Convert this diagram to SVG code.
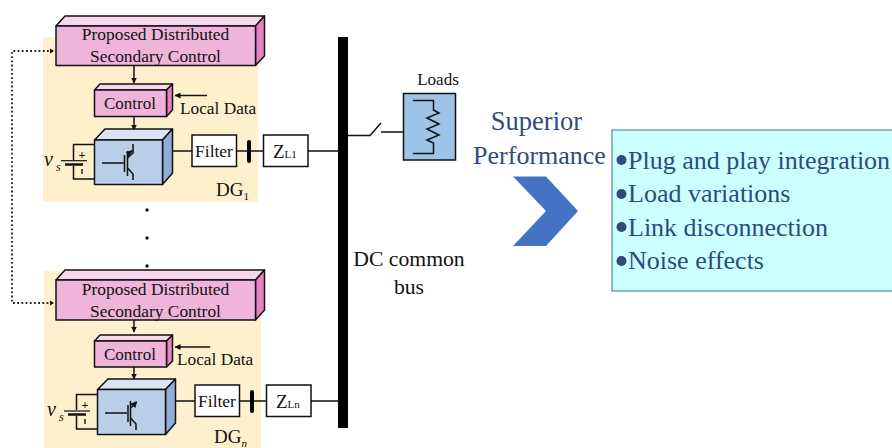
<svg xmlns="http://www.w3.org/2000/svg" width="892" height="448" viewBox="0 0 892 448">
<defs>
<style>
text{font-family:"Liberation Serif",serif;fill:#111}
.w{fill:none;stroke:#111;stroke-width:1.5}
.t{fill:none;stroke:#111;stroke-width:1.2}
.d{fill:none;stroke:#222;stroke-width:1.8;stroke-dasharray:1.8 2.4}
.bx{stroke:#111;stroke-width:1.5;stroke-linejoin:round}
.f1{fill:#efb4d9}.f2{fill:#f8d6ec}.f3{fill:#e583c2}
.b1{fill:#b9cfe8}.b2{fill:#dae5f3}.b3{fill:#90add6}
.white{fill:#fff;stroke:#111;stroke-width:1.5}
.blue{fill:#2f4a7d}
.p{font-size:17.400px;text-anchor:middle}
.c{font-size:17px;text-anchor:middle}
.l{font-size:17.300px}
.fl{font-size:17.500px;text-anchor:middle}
.n{fill:#2f4a7d}
</style>
<marker id="a" viewBox="0 0 6 6" refX="5.5" refY="3" markerWidth="6" markerHeight="6" orient="auto" markerUnits="userSpaceOnUse"><path d="M0 0L6 3L0 6z" fill="#111"/></marker>
</defs>
<rect x="43" y="37" width="215" height="165" fill="#fff0cd"/>
<rect x="44" y="271" width="217" height="177" fill="#fff0cd"/>
<g id="connectors">
<path class="d" d="M53 51H12V303H54" />
<path d="M50 48.500L54 51L50 53.500z" fill="#111"/>
<path d="M50 300.500L54 303L50 305.500z" fill="#111"/>
<path class="w" d="M134 66V83" marker-end="url(#a)"/>
<path class="w" d="M134 117V130" marker-end="url(#a)"/>
<path class="w" d="M207 95.500H175" marker-end="url(#a)"/>
<path class="w" d="M172 151H192M236 151H264M308 151H340"/>
<path class="w" d="M134 320V332" marker-end="url(#a)"/>
<path class="w" d="M134 367V379" marker-end="url(#a)"/>
<path class="w" d="M210 347H175" marker-end="url(#a)"/>
<path class="w" d="M175 401H195M239 401H267M311 401H340"/>
<path class="w" d="M347 135.500H370L381 123M381 132H404"/>
</g>
<g id="bus"><rect x="338" y="37" width="10" height="391" fill="#000"/></g>
<g id="dots" fill="#111"><circle cx="147" cy="210" r="1.700"/><circle cx="147" cy="238" r="1.700"/><circle cx="147" cy="266" r="1.700"/></g>

<g id="secondary1">
<path class="bx f2" d="M56 26L65 16H264.500L255.500 26z"/><path class="bx f3" d="M255.500 26L264.500 16V56L255.500 65.500z"/><rect class="bx f1" x="56" y="26" width="199.500" height="39.500"/>
<text x="155.500" y="40" class="p">Proposed Distributed</text><text x="155.500" y="62" class="p">Secondary Control</text>
</g>
<g id="control1">
<path class="bx f2" d="M94.500 90L100 84H172.500L166.500 90z"/><path class="bx f3" d="M166.500 90L172.500 84V110L166.500 116.500z"/><rect class="bx f1" x="94.500" y="90" width="72" height="26.500"/>
<text x="130" y="109" class="c">Control</text>
<text x="180" y="114" class="l">Local Data</text>
</g>
<g id="converter1">
<path class="bx b2" d="M94.500 140L105 129H172.500L162.500 140z"/><path class="bx b3" d="M162.500 140L172.500 129V173L162.500 184.500z"/><rect class="bx b1" x="94.500" y="140" width="68" height="44.500"/>
<path class="w" d="M94 144.500H73.500V160M73.500 166V179H94"/>
<path d="M61 160.700H87" stroke="#111" stroke-width="1.200"/><path d="M65 164.500H83" stroke="#111" stroke-width="2.500"/>
<text x="82" y="159" font-size="12" font-weight="bold" text-anchor="middle" font-family="Liberation Sans">+</text><path d="M82 169V174" stroke="#111" stroke-width="1.400"/>
<path class="w" d="M102 163H124M124.500 155V172M127.500 151V176"/><path class="w" d="M127.500 158L133 153V144M127.500 168L133 174V180"/><path d="M134 149.500L128.500 156.500L126 152z" fill="#111"/>
<text x="44" y="166" font-size="20" font-style="italic">v</text><text x="56" y="171" font-size="12" font-style="italic">s</text>
<text x="216" y="196" font-size="19">DG<tspan font-size="11" dy="4">1</tspan></text>
</g>
<g id="filter1"><rect class="white" x="192" y="135" width="44.500" height="31.500"/><text x="214" y="157" class="fl">Filter</text><rect x="247" y="140" width="4" height="23" rx="2" fill="#000"/></g>
<g id="zl1"><rect class="white" x="263.500" y="135" width="44.500" height="31.500"/><text x="273" y="158" font-size="19">Z<tspan font-size="11">L1</tspan></text></g>

<g id="secondaryn">
<path class="bx f2" d="M56 280L65 270H264.500L255.500 280z"/><path class="bx f3" d="M255.500 280L264.500 270V310L255.500 320z"/><rect class="bx f1" x="56" y="280" width="199.500" height="40"/>
<text x="155.500" y="295" class="p">Proposed Distributed</text><text x="155.500" y="317" class="p">Secondary Control</text>
</g>
<g id="controln">
<path class="bx f2" d="M94.500 341L100 335H172.500L166.500 341z"/><path class="bx f3" d="M166.500 341L172.500 335V361L166.500 367z"/><rect class="bx f1" x="94.500" y="341" width="72" height="26"/>
<text x="130" y="360" class="c">Control</text>
<text x="177" y="365" class="l">Local Data</text>
</g>
<g id="convertern">
<path class="bx b2" d="M97.500 389.500L108 379H175.500L165.500 389.500z"/><path class="bx b3" d="M165.500 389.500L175.500 379V423L165.500 434.500z"/><rect class="bx b1" x="97.500" y="389.500" width="68" height="45"/>
<path class="w" d="M97 394.500H76.500V410M76.500 416V429H97"/>
<path d="M64 411H90" stroke="#111" stroke-width="1.200"/><path d="M68 414.500H86" stroke="#111" stroke-width="2.500"/>
<text x="85" y="409" font-size="12" font-weight="bold" text-anchor="middle" font-family="Liberation Sans">+</text><path d="M85 419V424" stroke="#111" stroke-width="1.400"/>
<path class="w" d="M105 413H127M128 405V422M130.500 401V426"/><path class="w" d="M130.500 408L136 403V402M130.500 418L136 424V430"/><path d="M137 401L135.500 408L130 404z" fill="#111"/>
<text x="47" y="416" font-size="20" font-style="italic">v</text><text x="59" y="421" font-size="12" font-style="italic">s</text>
<text x="214" y="443" font-size="19">DG<tspan font-size="11" font-style="italic" dy="4">n</tspan></text>
</g>
<g id="filtern"><rect class="white" x="195" y="385" width="44.500" height="31.500"/><text x="217" y="407" class="fl">Filter</text><rect x="250" y="390" width="4" height="23" rx="2" fill="#000"/></g>
<g id="zln"><rect class="white" x="266.500" y="385" width="44.500" height="31.500"/><text x="276" y="408" font-size="19">Z<tspan font-size="11">Ln</tspan></text></g>

<g id="busLabel"><text x="409" y="266" font-size="21.700" text-anchor="middle">DC common</text><text x="409" y="294" font-size="21.700" text-anchor="middle">bus</text></g>
<g id="loads">
<text x="438" y="85" font-size="17" text-anchor="middle">Loads</text>
<rect x="403.500" y="93.500" width="52" height="66.500" fill="#9dc3e6" stroke="#111" stroke-width="1.500"/>
<path class="w" d="M413 100.500H433.500V110L439 113L427 118L439 124L427 129L439 135L427 140L433.500 143V153.500H413"/>
</g>
<g id="superior">
<text x="536.500" y="130" font-size="26.500" text-anchor="middle" class="n">Superior</text>
<text x="539.500" y="164" font-size="26" text-anchor="middle" class="n">Performance</text>
<path d="M513 176.500H546L578 211L546 246H513L546 211z" fill="#4472c4"/>
</g>
<g id="benefits">
<rect x="612" y="130" width="281" height="161" fill="#ccffff" stroke="#5b84a8" stroke-width="1.200"/>
<g class="blue"><circle cx="621.500" cy="160" r="5"/><circle cx="621.500" cy="194" r="5"/><circle cx="621.500" cy="227" r="5"/><circle cx="621.500" cy="261" r="5"/></g>
<g font-size="26"><text x="628" y="169" class="n">Plug and play integration</text><text x="628" y="202" class="n">Load variations</text><text x="628" y="236" class="n">Link disconnection</text><text x="628" y="269" class="n">Noise effects</text></g>
</g>
</svg>
